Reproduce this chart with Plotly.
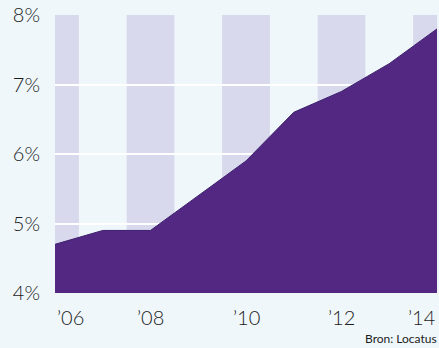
import plotly.graph_objects as go

# share of empty retail space, per year
years = [2006, 2007, 2008, 2009, 2010, 2011, 2012, 2013, 2014]
values = [4.7, 4.9, 4.9, 5.4, 5.9, 6.6, 6.9, 7.3, 7.8]

ytick_vals = [4, 5, 6, 7, 8]
ytick_text = ["4%", "5%", "6%", "7%", "8%"]
label_years = [2006, 2008, 2010, 2012, 2014]
label_text = ["\u201906", "\u201908", "\u201910", "\u201912", "\u201914"]
source = "Bron: Locatus"

BG = "#eff7fa"
BAND = "#d8d9ec"
FILL = "#522882"
TXT = "#1c1c1c"

fig = go.Figure()
fig.add_trace(go.Scatter(
    x=years, y=values, mode="lines", fill="tozeroy",
    fillcolor=FILL, line=dict(color="#3c1f6e", width=1),
    hoverinfo="skip", showlegend=False,
))

# vertical bands around the even years
for yr in label_years:
    fig.add_shape(type="rect", xref="x", yref="paper",
                  x0=max(yr - 0.5, years[0]), x1=min(yr + 0.5, years[-1]),
                  y0=0, y1=1, fillcolor=BAND, line_width=0, layer="below")

# year labels, the outer ones kept inside the plot
anchors = ["left", "center", "center", "center", "right"]
for yr, txt, anc in zip(label_years, label_text, anchors):
    fig.add_annotation(x=yr, y=0, xref="x", yref="paper", yshift=-24,
                       text=txt, showarrow=False, xanchor=anc, yanchor="middle",
                       font=dict(size=20, color=TXT, weight=300))

fig.add_annotation(x=1, y=0, xref="paper", yref="paper", yshift=-45, xshift=2,
                   text=source, showarrow=False, xanchor="right", yanchor="middle",
                   font=dict(size=12, color=TXT))

fig.update_layout(
    width=439, height=348,
    margin=dict(l=55, r=2, t=15, b=55, autoexpand=False),
    paper_bgcolor=BG, plot_bgcolor=BG,
    font=dict(family="Lato, sans-serif", color=TXT),
)
fig.update_xaxes(range=[years[0], years[-1]], showgrid=False, showticklabels=False,
                 zeroline=False, showline=False)
fig.update_yaxes(range=[4, 8], tickvals=ytick_vals, ticktext=ytick_text,
                 showgrid=True, gridcolor="white", gridwidth=2, zeroline=False,
                 tickfont=dict(size=20, color=TXT, weight=300), ticklabelstandoff=14)

fig.write_html("out.html", config={"displayModeBar": False},
               post_script="document.body.style.margin='0';")
